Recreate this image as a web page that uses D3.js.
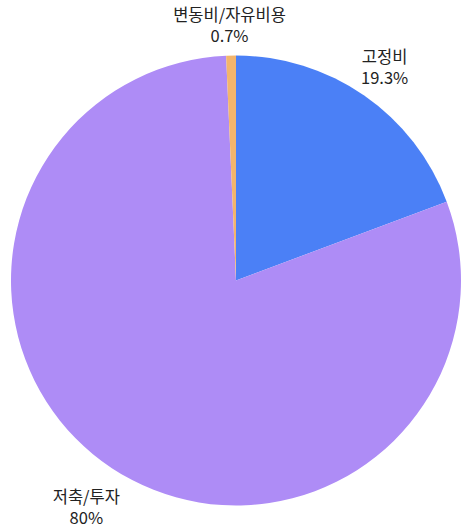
<!DOCTYPE html>
<html>
<head>
<meta charset="utf-8">
<script src="https://cdn.jsdelivr.net/npm/d3@7"></script>
<style>
  body { margin: 0; background: #fff; }
  text { font-family: "Noto Sans CJK KR", "Noto Sans", sans-serif; fill: #222; }
</style>
</head>
<body>
<div id="chart"></div>
<script>
var categories = ["고정비", "저축/투자", "변동비/자유비용"];
var values = [19.3, 80, 0.7];
var valueLabels = ["19.3%", "80%", "0.7%"];
var colors = ["#4b80f6", "#ae8cf6", "#f3b56c"];

var width = 471,
    height = 532;
var cx = 236, cy = 280.5, radius = 225;
var fontSize = 16.5, lineH = 21, gap = 11;

var svg = d3.select("#chart").append("svg")
    .attr("width", width)
    .attr("height", height);

var data = categories.map(function(c, i) {
  return {name: c, value: values[i], label: valueLabels[i], color: colors[i]};
});

var pie = d3.pie()
    .sort(null)
    .value(function(d) { return d.value; });

var arc = d3.arc()
    .innerRadius(0)
    .outerRadius(radius);

var g = svg.append("g")
    .attr("transform", "translate(" + cx + "," + cy + ")");

var arcs = pie(data);

g.selectAll("path")
    .data(arcs)
    .enter().append("path")
    .attr("d", arc)
    .attr("fill", function(d) { return d.data.color; });

// labels: two lines, box pushed out past the rim along the slice's mid angle
var labels = g.selectAll(".label")
    .data(arcs)
    .enter().append("g")
    .attr("class", "label");

labels.each(function(d) {
  var lg = d3.select(this);
  var t1 = lg.append("text").attr("text-anchor", "middle")
      .style("font-size", fontSize + "px").text(d.data.name);
  var t2 = lg.append("text").attr("text-anchor", "middle")
      .style("font-size", fontSize + "px").text(d.data.label);
  var w = Math.max(t1.node().getComputedTextLength(), t2.node().getComputedTextLength());
  var h = lineH * 2;
  var a = (d.startAngle + d.endAngle) / 2;
  var s = Math.sin(a), c = -Math.cos(a);
  var ax = s * (radius + gap), ay = c * (radius + gap);
  var bx = ax + Math.max(-1, Math.min(1, s * 1.05)) * w / 2;
  var by = c < 0
      ? ay + Math.max(-1, c * 1.3) * h / 2
      : ay + c * 1.65 * h / 2;
  var top = by - h / 2;
  t1.attr("x", bx).attr("y", top + 18);
  t2.attr("x", bx).attr("y", top + 18 + lineH);
});
</script>
</body>
</html>
